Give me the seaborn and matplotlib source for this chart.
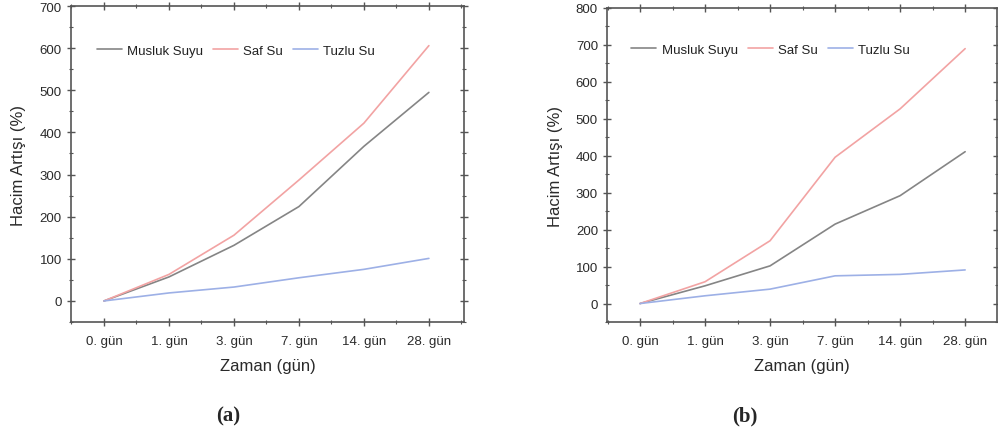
import matplotlib
matplotlib.use("Agg")
import matplotlib.pyplot as plt
import seaborn as sns
import pandas as pd
from matplotlib.ticker import MultipleLocator

categories = ["0. gün", "1. gün", "3. gün", "7. gün", "14. gün", "28. gün"]
series_names = ["Musluk Suyu", "Saf Su", "Tuzlu Su"]

a_musluk = [0, 57, 132, 224, 367, 495]
a_saf = [0, 63, 156, 287, 422, 606]
a_tuzlu = [0, 19, 33, 55, 75, 101]

b_musluk = [0, 48, 102, 215, 292, 411]
b_saf = [0, 59, 170, 396, 527, 690]
b_tuzlu = [0, 21, 39, 75, 79, 91]

colors = ["#858585", "#f2a3a3", "#9db0e6"]

sns.set_theme(style="white")
plt.rcParams["font.family"] = ["Liberation Sans", "DejaVu Sans"]

def make_df(m, s, t):
    rows = []
    for name, vals in zip(series_names, [m, s, t]):
        for i, v in enumerate(vals):
            rows.append({"pos": i, "val": v, "Seri": name})
    return pd.DataFrame(rows)

fig = plt.figure(figsize=(9.98, 4.39), dpi=100)
ax1 = fig.add_axes([0.0711, 0.2642, 0.3938, 0.7198])
ax2 = fig.add_axes([0.6082, 0.2642, 0.3908, 0.7153])

panels = [
    (ax1, make_df(a_musluk, a_saf, a_tuzlu), (-50, 700), (-0.508, 5.54), 0.035, 0.915, 10),
    (ax2, make_df(b_musluk, b_saf, b_tuzlu), (-50, 800), (-0.508, 5.49), 0.032, 0.925, 9),
]

for ax, df, ylim, xlim, lx, ly, ypad in panels:
    sns.lineplot(data=df, x="pos", y="val", hue="Seri", palette=colors,
                 linewidth=1.2, ax=ax, legend=True)
    ax.set_ylim(*ylim)
    ax.set_xlim(*xlim)
    ax.set_xticks(range(len(categories)))
    ax.set_xticklabels(categories)
    ax.xaxis.set_minor_locator(MultipleLocator(0.5))
    ax.yaxis.set_major_locator(MultipleLocator(100))
    ax.yaxis.set_minor_locator(MultipleLocator(50))
    ax.set_ylim(*ylim)
    ax.set_xlabel("Zaman (gün)", fontsize=12, color="#2a2a2a", labelpad=8)
    ax.set_ylabel("Hacim Artışı (%)", fontsize=12, color="#2a2a2a", labelpad=ypad)
    for sp in ax.spines.values():
        sp.set_color("#555555")
        sp.set_linewidth(1.2)
    ax.tick_params(which="major", direction="inout", length=6, width=1,
                   color="#555555", labelsize=9.5, labelcolor="#2a2a2a",
                   top=True, right=True, left=True, bottom=True)
    ax.tick_params(axis="x", which="major", pad=6)
    ax.tick_params(which="minor", direction="inout", length=3.5, width=0.8,
                   color="#555555", top=True, right=True, left=True, bottom=True)
    leg = ax.legend(loc="upper left", bbox_to_anchor=(lx, ly), ncol=3,
                    frameon=False, fontsize=9.5, handlelength=1.9,
                    columnspacing=0.75, handletextpad=0.4)
    for t in leg.get_texts():
        t.set_color("#222222")

fig.text(0.2285, 0.052, "(a)", ha="center", va="center", fontsize=15,
         fontweight="bold", family=["Liberation Serif", "DejaVu Serif"])
fig.text(0.7465, 0.052, "(b)", ha="center", va="center", fontsize=15,
         fontweight="bold", family=["Liberation Serif", "DejaVu Serif"])

fig.savefig("out.png", dpi=100)
